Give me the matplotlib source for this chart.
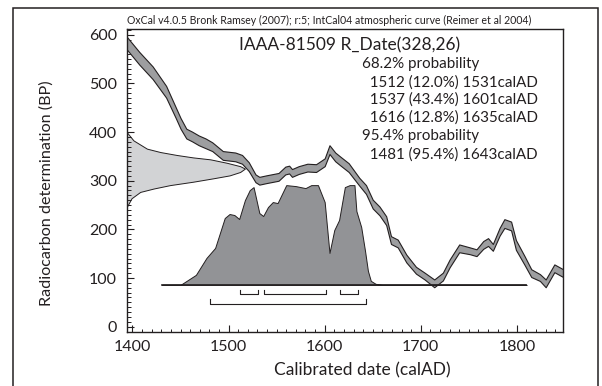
import numpy as np
import matplotlib
matplotlib.use("Agg")
import matplotlib.pyplot as plt
from matplotlib.ticker import MultipleLocator
from matplotlib.patches import Rectangle

plt.rcParams['font.family'] = ['Lato', 'DejaVu Sans']

# IntCal04 curve: calAD, BP centre, half width of band
cal_year = [1392, 1407, 1421, 1435, 1445, 1450, 1456, 1462, 1469, 1476, 1483, 1494,
            1507, 1514, 1521, 1528, 1532, 1539, 1552, 1559, 1563, 1566, 1573, 1582,
            1591, 1600, 1605, 1611, 1616, 1625, 1636, 1643, 1650, 1657, 1664, 1669,
            1676, 1685, 1695, 1704, 1714, 1723, 1730, 1740, 1751, 1758, 1765, 1770,
            1775, 1782, 1787, 1794, 1799, 1808, 1815, 1824, 1830, 1839, 1850]
cal_bp = [588, 552, 522, 483, 440, 418, 397, 391, 383, 377, 370, 352,
          349, 344, 329, 305, 300, 303, 308, 321, 323, 316, 322, 327,
          326, 338, 364, 349, 341, 327, 298, 282, 252, 238, 218, 178,
          171, 140, 116, 104, 89, 103, 130, 161, 156, 152, 168, 174,
          163, 195, 212, 207, 168, 136, 110, 101, 89, 120, 108]
cal_err = [13, 13, 13, 12, 11, 11, 10, 10, 10, 10, 9, 9,
           9, 9, 9, 8, 8, 8, 8, 8, 8, 8, 8, 8,
           8, 8, 9, 9, 9, 9, 8, 9, 9, 9, 9, 8,
           8, 8, 7, 7, 8, 8, 8, 8, 7, 7, 8, 8,
           7, 8, 9, 9, 10, 9, 8, 7, 8, 8, 8]

# calibrated date distribution (relative probability)
dist_year = [1431, 1450, 1466, 1477, 1486, 1496, 1501, 1506, 1511, 1517, 1522, 1526,
             1532, 1536, 1541, 1546, 1551, 1560, 1570, 1580, 1586, 1593, 1600, 1605,
             1610, 1615, 1621, 1626, 1631, 1633, 1638, 1642, 1645, 1648, 1653, 1660, 1810]
dist_prob = [0, 0, 0.10, 0.27, 0.37, 0.67, 0.71, 0.70, 0.66, 0.85, 0.95, 0.98,
             0.72, 0.69, 0.78, 0.83, 0.82, 1.0, 0.99, 0.97, 1.0, 1.0, 0.83, 0.32,
             0.55, 0.65, 0.98, 1.0, 1.0, 0.74, 0.58, 0.34, 0.14, 0.04, 0.01, 0, 0]

# R_Date(328,26) as drawn against the y axis: BP and extent in years
gauss_bp = [400, 383, 366, 359, 353, 348, 344, 337, 330, 325,
            318, 311, 305, 298, 291, 284, 277, 264, 246]
gauss_w = [0, 7, 21, 35, 52, 69, 87, 104, 118, 123,
           118, 107, 90, 69, 45, 28, 14, 5, 0]

range68 = [(1512, 1531), (1537, 1601), (1616, 1635)]
range95 = [(1481, 1643)]

top_note = 'OxCal v4.0.5 Bronk Ramsey (2007); r:5; IntCal04 atmospheric curve (Reimer et al 2004)'
sample = 'IAAA-81509 R_Date(328,26)'
prob_lines = ['68.2% probability',
              '  1512 (12.0%) 1531calAD',
              '  1537 (43.4%) 1601calAD',
              '  1616 (12.8%) 1635calAD',
              '95.4% probability',
              '  1481 (95.4%) 1643calAD']

ink = '#231f20'

fig = plt.figure(figsize=(6.02, 3.86), dpi=100)
ax = fig.add_axes([0.2105, 0.1399, 0.7247, 0.7837])
ax.set_xlim(1394, 1848)
ax.set_ylim(-11, 611)

# frame round the whole picture
fig.patches.append(Rectangle((13 / 602, -0.1), 585 / 602, 1.1 - 8 / 386, transform=fig.transFigure,
                             fill=False, lw=1.1, ec=ink))

x0 = ax.get_xlim()[0]
ax.fill_betweenx(gauss_bp, x0, x0 + np.array(gauss_w), facecolor='#d2d3d5', edgecolor=ink, lw=0.7, zorder=1)

bp = np.array(cal_bp)
err = np.array(cal_err)
ax.fill_between(cal_year, bp - err, bp + err, facecolor='#9d9ea0', edgecolor=ink, lw=0.8, zorder=2)

base = 86
scale = 205
ax.fill_between(dist_year, base, base + np.array(dist_prob) * scale,
                facecolor='#929396', edgecolor=ink, lw=0.7, zorder=3)
ax.plot([dist_year[0], dist_year[-1]], [base, base], color=ink, lw=1.2, zorder=4)

# range brackets
for a, b in range68:
    ax.plot([a, a, b, b], [75, 67, 67, 75], color=ink, lw=0.8)
for a, b in range95:
    ax.plot([a, a, b, b], [56, 47, 47, 56], color=ink, lw=0.8)

ax.xaxis.set_major_locator(MultipleLocator(100))
ax.xaxis.set_minor_locator(MultipleLocator(10))
ax.yaxis.set_major_locator(MultipleLocator(100))
ax.yaxis.set_minor_locator(MultipleLocator(10))
ax.tick_params(direction='in', which='both', top=False, right=False, colors=ink, labelsize=11.5)
ax.tick_params(axis='x', which='major', length=5, width=0.8, pad=5.5)
ax.tick_params(axis='x', which='minor', length=2.2, width=0.7)
ax.tick_params(axis='y', which='major', length=5, width=0.8, pad=7)
ax.tick_params(axis='y', which='minor', length=2.9, width=0.7)
for s in ax.spines.values():
    s.set_color(ink)
    s.set_linewidth(1.0)

ax.text(0.0, 1.031, top_note, transform=ax.transAxes, ha='left', va='center', fontsize=7.6, color=ink)
ax.text(0.51, 0.949, sample, transform=ax.transAxes, ha='center', va='center', fontsize=12.5, color=ink)
ys = [0.886, 0.826, 0.767, 0.709, 0.648, 0.588]
for t, y in zip(prob_lines, ys):
    ax.text(0.5386, y, t, transform=ax.transAxes, ha='left', va='center', fontsize=10.9, color=ink)

fig.text(362 / 602, 1 - 370 / 386, 'Calibrated date (calAD)', ha='center', va='center', fontsize=12.5, color=ink)
fig.text(47 / 602, 1 - 193 / 386, 'Radiocarbon determination (BP)', rotation=90,
         ha='center', va='center', fontsize=11.6, color=ink)

fig.savefig('out.png', dpi=100)
